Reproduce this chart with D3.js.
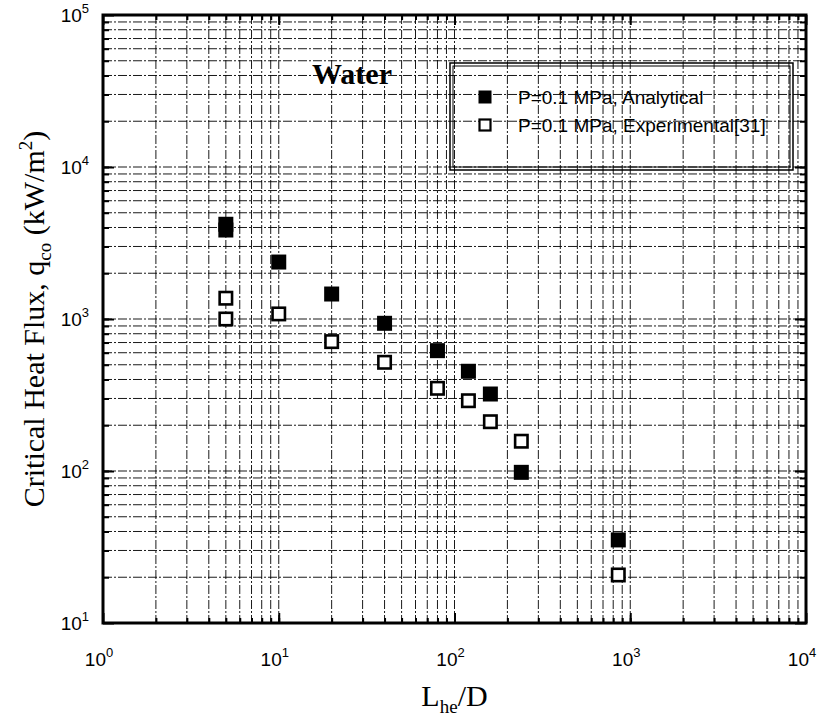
<!DOCTYPE html>
<html><head><meta charset="utf-8">
<script src="https://cdn.jsdelivr.net/npm/d3@7"></script>
<style>body{margin:0;background:#fff}</style>
</head><body>
<svg id="c" width="824" height="720"></svg>
<script>
const seriesNames = ["P=0.1 MPa, Analytical", "P=0.1 MPa, Experimental[31]"];
const analyticalX = [5, 5, 10, 20, 40, 80, 120, 160, 240, 855];
const analyticalY = [4200, 3850, 2370, 1460, 937, 619, 453, 321, 98, 35.2];
const experimentalX = [5, 5, 10, 20, 40, 80, 120, 160, 240, 855];
const experimentalY = [1370, 1000, 1080, 710, 519, 350, 290, 211, 157, 20.7];
const xTickExps = [0, 1, 2, 3, 4];
const yTickExps = [1, 2, 3, 4, 5];
const fluidLabel = "Water";

const svg = d3.select("#c");
const L = 103, R = 806, T = 15, B = 623;
const x = d3.scaleLog().domain([1, 1e4]).range([L, R]);
const y = d3.scaleLog().domain([10, 1e5]).range([B, T]);

// grid
const xMinor = [], yMinor = [];
for (let e = 0; e < 4; e++) for (let m = 1; m < 10; m++) xMinor.push(m * Math.pow(10, e));
for (let e = 1; e < 5; e++) for (let m = 1; m < 10; m++) yMinor.push(m * Math.pow(10, e));
const grid = svg.append("g").attr("stroke", "#000").attr("stroke-width", 1).attr("fill", "none");
grid.selectAll(".gx").data(xMinor.slice(1)).join("line")
  .attr("x1", d => x(d)).attr("x2", d => x(d)).attr("y1", T).attr("y2", B)
  .attr("stroke-dasharray", "9,2,2,2").attr("opacity", 0.9);
grid.selectAll(".gy").data(yMinor.slice(1)).join("line")
  .attr("y1", d => y(d)).attr("y2", d => y(d)).attr("x1", L).attr("x2", R)
  .attr("stroke-dasharray", "9,2,2,2").attr("opacity", 0.9);

// axes with inward ticks
const fmt = () => "";
const axB = d3.axisBottom(x).tickValues(xMinor.slice(1)).tickFormat(fmt).tickSize(-5);
const axT = d3.axisTop(x).tickValues(xMinor.slice(1)).tickFormat(fmt).tickSize(-5);
const axLft = d3.axisLeft(y).tickValues(yMinor.slice(1)).tickFormat(fmt).tickSize(-6);
const axRt = d3.axisRight(y).tickValues(yMinor.slice(1)).tickFormat(fmt).tickSize(-6);
function styleAx(g){ g.select(".domain").remove(); g.selectAll(".tick line").attr("stroke","#000").attr("stroke-width",2); }
svg.append("g").attr("transform", `translate(0,${B})`).call(axB).call(styleAx);
svg.append("g").attr("transform", `translate(0,${T})`).call(axT).call(styleAx);
svg.append("g").attr("transform", `translate(${L},0)`).call(axLft).call(styleAx);
svg.append("g").attr("transform", `translate(${R},0)`).call(axRt).call(styleAx);
const axLM = d3.axisLeft(y).tickValues(yTickExps.map(e=>Math.pow(10,e))).tickFormat(fmt).tickSize(-11);
const axRM = d3.axisRight(y).tickValues(yTickExps.map(e=>Math.pow(10,e))).tickFormat(fmt).tickSize(-11);
const axBM = d3.axisBottom(x).tickValues(xTickExps.map(e=>Math.pow(10,e))).tickFormat(fmt).tickSize(-10);
const axTM = d3.axisTop(x).tickValues(xTickExps.map(e=>Math.pow(10,e))).tickFormat(fmt).tickSize(-10);
svg.append("g").attr("transform", `translate(${L},0)`).call(axLM).call(styleAx);
svg.append("g").attr("transform", `translate(${R},0)`).call(axRM).call(styleAx);
svg.append("g").attr("transform", `translate(0,${B})`).call(axBM).call(styleAx);
svg.append("g").attr("transform", `translate(0,${T})`).call(axTM).call(styleAx);

// frame
svg.append("rect").attr("x", L).attr("y", T).attr("width", R - L).attr("height", B - T)
  .attr("fill", "none").attr("stroke", "#000").attr("stroke-width", 3);

// tick labels
const tf = "'Liberation Sans', Arial, sans-serif";
const xl = svg.append("g").attr("font-family", tf).attr("font-size", 19).attr("fill", "#000");
xTickExps.forEach(e => {
  const t = xl.append("text").attr("x", x(Math.pow(10, e)) - 4).attr("y", 666).attr("text-anchor", "middle");
  t.append("tspan").text("10");
  t.append("tspan").attr("font-size", 13).attr("dy", -9).text(e);
});
const yl = svg.append("g").attr("font-family", tf).attr("font-size", 19).attr("fill", "#000");
yTickExps.forEach(e => {
  const t = yl.append("text").attr("x", 89).attr("y", y(Math.pow(10, e)) + 7).attr("text-anchor", "end");
  t.append("tspan").text("10");
  t.append("tspan").attr("font-size", 13).attr("dy", -9).text(e);
});

// axis titles
const sf = "'Liberation Serif', 'Times New Roman', serif";
const xt = svg.append("text").attr("x", (L + R) / 2).attr("y", 706).attr("text-anchor", "middle")
  .attr("font-family", sf).attr("font-size", 30).attr("fill", "#000");
xt.append("tspan").text("L");
xt.append("tspan").attr("font-size", 19).attr("dy", 7).text("he");
xt.append("tspan").attr("dy", -7).text("/D");

const yt = svg.append("text").attr("transform", `translate(44,${(T + B) / 2}) rotate(-90)`)
  .attr("text-anchor", "middle").attr("font-family", sf).attr("font-size", 30).attr("fill", "#000");
yt.append("tspan").text("Critical Heat Flux, q");
yt.append("tspan").attr("font-size", 19).attr("dy", 7).text("co");
yt.append("tspan").attr("dy", -7).text(" (kW/m");
yt.append("tspan").attr("font-size", 19).attr("dy", -12).text("2");
yt.append("tspan").attr("dy", 12).text(")");

// Water label
svg.append("text").attr("x", 312).attr("y", 84).attr("font-family", sf).attr("font-weight", "bold")
  .attr("font-size", 30).attr("fill", "#000").text(fluidLabel);

// data points
const S = 15;
const aData = analyticalX.map((v, i) => [v, analyticalY[i]]);
const eData = experimentalX.map((v, i) => [v, experimentalY[i]]);
svg.append("g").selectAll("rect").data(aData).join("rect")
  .attr("x", d => x(d[0]) - S / 2).attr("y", d => y(d[1]) - S / 2).attr("width", S).attr("height", S)
  .attr("fill", "#000");
svg.append("g").selectAll("rect").data(eData).join("rect")
  .attr("x", d => x(d[0]) - S / 2 + 1.3).attr("y", d => y(d[1]) - S / 2 + 1.3).attr("width", S - 2.6).attr("height", S - 2.6)
  .attr("fill", "#fff").attr("stroke", "#000").attr("stroke-width", 2.6);

// legend
const lg = svg.append("g");
lg.append("rect").attr("x", 450).attr("y", 63).attr("width", 343).attr("height", 107)
  .attr("fill", "none").attr("stroke", "#000").attr("stroke-width", 1.5);
lg.append("rect").attr("x", 453).attr("y", 66).attr("width", 337).attr("height", 101)
  .attr("fill", "none").attr("stroke", "#000").attr("stroke-width", 1);
const rows = [97, 125];
lg.append("rect").attr("x", 485 - 6.5).attr("y", rows[0] - 6.5).attr("width", 13).attr("height", 13).attr("fill", "#000");
lg.append("rect").attr("x", 485 - 5.5).attr("y", rows[1] - 5.5).attr("width", 11).attr("height", 11)
  .attr("fill", "#fff").attr("stroke", "#000").attr("stroke-width", 2.2);
seriesNames.forEach((n, i) => {
  lg.append("text").attr("x", 518).attr("y", rows[i] + 7).attr("font-family", tf).attr("font-size", 19)
    .attr("fill", "#000").text(n);
});
</script>
</body></html>
